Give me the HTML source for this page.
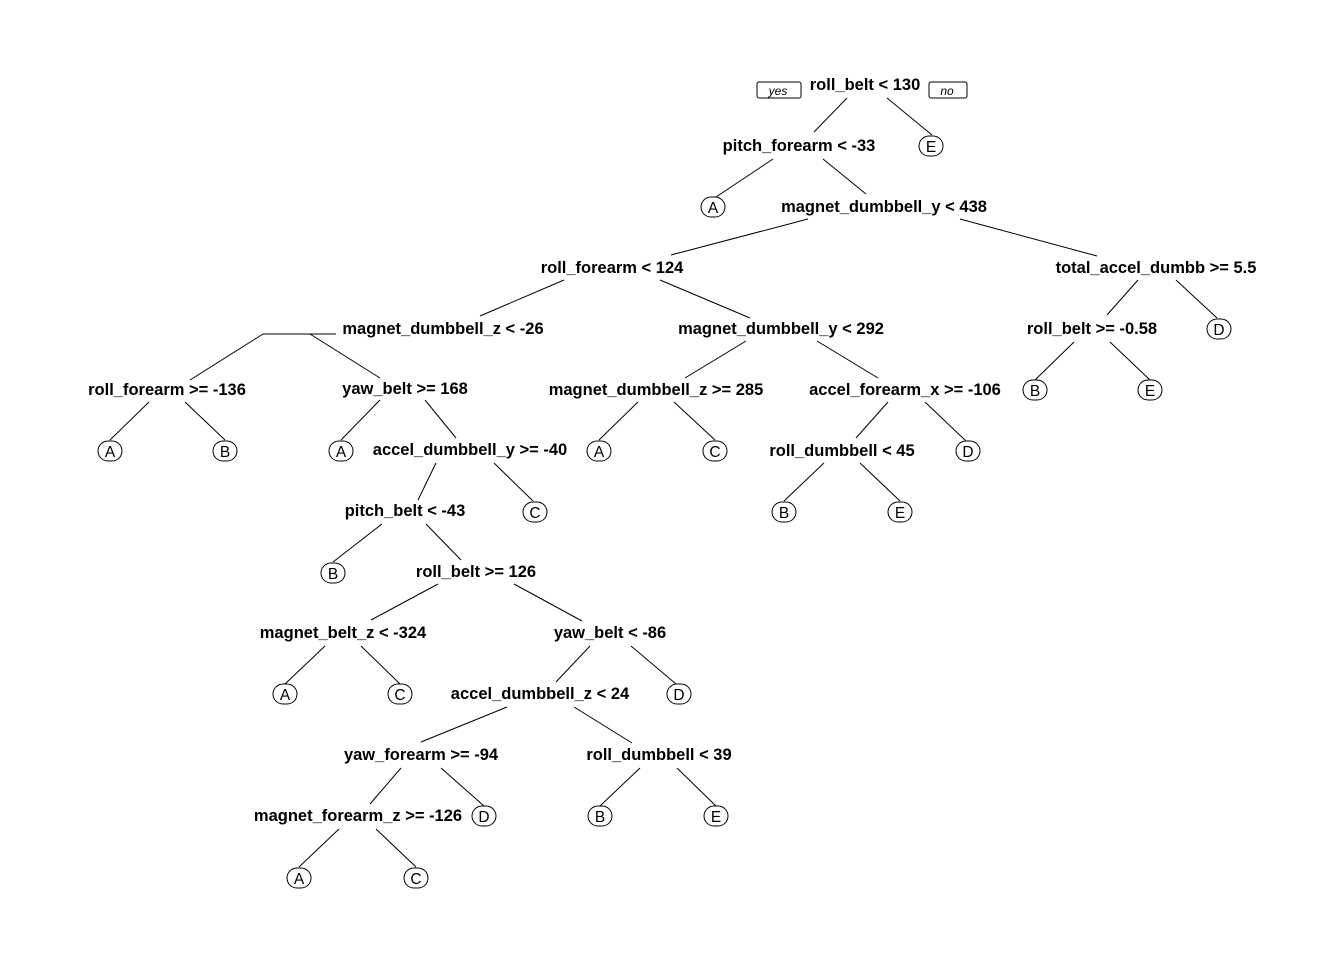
<!DOCTYPE html>
<html><head><meta charset="utf-8"><style>
html,body{margin:0;padding:0;background:#fff;}
svg text{font-family:"Liberation Sans",Arial,sans-serif;}
.n{font-weight:bold;font-size:16.5px;text-anchor:middle;}
.l{font-size:15.5px;text-anchor:middle;}
line{stroke:#000;stroke-width:1;}
rect{fill:#fff;stroke:#000;stroke-width:1;}
</style></head><body>
<svg width="1344" height="960" xmlns="http://www.w3.org/2000/svg">
<rect x="757" y="82" width="44" height="16" rx="2"/>
<text x="778" y="95" font-size="12" font-style="italic" text-anchor="middle">yes</text>
<rect x="929" y="82" width="38" height="16" rx="2"/>
<text x="947" y="95" font-size="12" font-style="italic" text-anchor="middle">no</text>

<g>
<line x1="847" y1="98" x2="814" y2="132"/><line x1="887" y1="98" x2="932" y2="135"/>
<line x1="773" y1="159" x2="716" y2="197"/><line x1="823" y1="159" x2="866" y2="194"/>
<line x1="808" y1="219" x2="671" y2="255"/><line x1="960" y1="219" x2="1097" y2="256"/>
<line x1="564" y1="280" x2="480" y2="316"/><line x1="660" y1="280" x2="750" y2="318"/>
<line x1="263" y1="334" x2="336" y2="334"/>
<line x1="263" y1="334" x2="190" y2="380"/><line x1="310" y1="334" x2="380" y2="378"/>
<line x1="149" y1="402" x2="110" y2="440"/><line x1="185" y1="402" x2="225" y2="440"/>
<line x1="380" y1="400" x2="341" y2="440"/><line x1="425" y1="400" x2="456" y2="438"/>
<line x1="436" y1="463" x2="418" y2="500"/><line x1="494" y1="463" x2="533" y2="501"/>
<line x1="382" y1="524" x2="333" y2="562"/><line x1="426" y1="524" x2="461" y2="560"/>
<line x1="438" y1="584" x2="371" y2="620"/><line x1="514" y1="584" x2="582" y2="621"/>
<line x1="325" y1="646" x2="285" y2="684"/><line x1="361" y1="646" x2="400" y2="684"/>
<line x1="590" y1="646" x2="556" y2="682"/><line x1="631" y1="646" x2="676" y2="684"/>
<line x1="507" y1="707" x2="421" y2="742"/><line x1="574" y1="707" x2="632" y2="743"/>
<line x1="401" y1="768" x2="370" y2="804"/><line x1="441" y1="768" x2="484" y2="806"/>
<line x1="339" y1="829" x2="299" y2="867"/><line x1="376" y1="829" x2="416" y2="867"/>
<line x1="640" y1="768" x2="600" y2="806"/><line x1="677" y1="768" x2="716" y2="806"/>
<line x1="746" y1="341" x2="685" y2="378"/><line x1="817" y1="341" x2="878" y2="378"/>
<line x1="638" y1="402" x2="599" y2="440"/><line x1="674" y1="402" x2="715" y2="440"/>
<line x1="888" y1="402" x2="856" y2="438"/><line x1="925" y1="402" x2="966" y2="441"/>
<line x1="824" y1="463" x2="784" y2="501"/><line x1="860" y1="463" x2="900" y2="501"/>
<line x1="1138" y1="280" x2="1107" y2="315"/><line x1="1176" y1="280" x2="1217" y2="318"/>
<line x1="1074" y1="342" x2="1035" y2="380"/><line x1="1110" y1="342" x2="1150" y2="380"/>
</g>

<g>
<text class="n" x="865" y="90">roll_belt &lt; 130</text>
<text class="n" x="799" y="151">pitch_forearm &lt; -33</text>
<text class="n" x="884" y="212">magnet_dumbbell_y &lt; 438</text>
<text class="n" x="612" y="273">roll_forearm &lt; 124</text>
<text class="n" x="1156" y="273">total_accel_dumbb &gt;= 5.5</text>
<text class="n" x="443" y="334">magnet_dumbbell_z &lt; -26</text>
<text class="n" x="781" y="334">magnet_dumbbell_y &lt; 292</text>
<text class="n" x="1092" y="334">roll_belt &gt;= -0.58</text>
<text class="n" x="167" y="395">roll_forearm &gt;= -136</text>
<text class="n" x="405" y="394">yaw_belt &gt;= 168</text>
<text class="n" x="656" y="395">magnet_dumbbell_z &gt;= 285</text>
<text class="n" x="905" y="395">accel_forearm_x &gt;= -106</text>
<text class="n" x="470" y="455">accel_dumbbell_y &gt;= -40</text>
<text class="n" x="842" y="456">roll_dumbbell &lt; 45</text>
<text class="n" x="405" y="516">pitch_belt &lt; -43</text>
<text class="n" x="476" y="577">roll_belt &gt;= 126</text>
<text class="n" x="343" y="638">magnet_belt_z &lt; -324</text>
<text class="n" x="610" y="638">yaw_belt &lt; -86</text>
<text class="n" x="540" y="699">accel_dumbbell_z &lt; 24</text>
<text class="n" x="421" y="760">yaw_forearm &gt;= -94</text>
<text class="n" x="659" y="760">roll_dumbbell &lt; 39</text>
<text class="n" x="358" y="821">magnet_forearm_z &gt;= -126</text>
</g>

<g>
<rect x="919" y="136" width="24" height="20" rx="10"/><text class="l" x="931" y="152">E</text>
<rect x="701" y="197" width="24" height="20" rx="10"/><text class="l" x="713" y="213">A</text>
<rect x="1207" y="319" width="24" height="20" rx="10"/><text class="l" x="1219" y="335">D</text>
<rect x="1023" y="380" width="24" height="20" rx="10"/><text class="l" x="1035" y="396">B</text>
<rect x="1138" y="380" width="24" height="20" rx="10"/><text class="l" x="1150" y="396">E</text>
<rect x="98" y="441" width="24" height="20" rx="10"/><text class="l" x="110" y="457">A</text>
<rect x="213" y="441" width="24" height="20" rx="10"/><text class="l" x="225" y="457">B</text>
<rect x="329" y="441" width="24" height="20" rx="10"/><text class="l" x="341" y="457">A</text>
<rect x="587" y="441" width="24" height="20" rx="10"/><text class="l" x="599" y="457">A</text>
<rect x="703" y="441" width="24" height="20" rx="10"/><text class="l" x="715" y="457">C</text>
<rect x="956" y="441" width="24" height="20" rx="10"/><text class="l" x="968" y="457">D</text>
<rect x="523" y="502" width="24" height="20" rx="10"/><text class="l" x="535" y="518">C</text>
<rect x="772" y="502" width="24" height="20" rx="10"/><text class="l" x="784" y="518">B</text>
<rect x="888" y="502" width="24" height="20" rx="10"/><text class="l" x="900" y="518">E</text>
<rect x="321" y="563" width="24" height="20" rx="10"/><text class="l" x="333" y="579">B</text>
<rect x="273" y="684" width="24" height="20" rx="10"/><text class="l" x="285" y="700">A</text>
<rect x="388" y="684" width="24" height="20" rx="10"/><text class="l" x="400" y="700">C</text>
<rect x="667" y="684" width="24" height="20" rx="10"/><text class="l" x="679" y="700">D</text>
<rect x="472" y="806" width="24" height="20" rx="10"/><text class="l" x="484" y="822">D</text>
<rect x="588" y="806" width="24" height="20" rx="10"/><text class="l" x="600" y="822">B</text>
<rect x="704" y="806" width="24" height="20" rx="10"/><text class="l" x="716" y="822">E</text>
<rect x="287" y="868" width="24" height="20" rx="10"/><text class="l" x="299" y="884">A</text>
<rect x="404" y="868" width="24" height="20" rx="10"/><text class="l" x="416" y="884">C</text>
</g>
</svg>
</body></html>
